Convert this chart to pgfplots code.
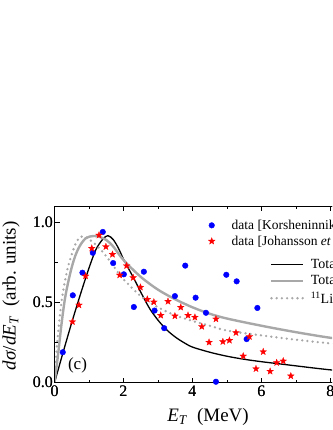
\documentclass[border=0pt]{standalone}
\usepackage{fontspec}
\setmainfont{Liberation Serif}
\usepackage{pgfplots}
\pgfplotsset{compat=1.18}

% filled five-point star
\pgfdeclareplotmark{fivestar}{%
  \pgfpathmoveto{\pgfpointpolar{90}{\pgfplotmarksize}}%
  \pgfpathlineto{\pgfpointpolar{126}{0.42\pgfplotmarksize}}%
  \pgfpathlineto{\pgfpointpolar{162}{\pgfplotmarksize}}%
  \pgfpathlineto{\pgfpointpolar{198}{0.42\pgfplotmarksize}}%
  \pgfpathlineto{\pgfpointpolar{234}{\pgfplotmarksize}}%
  \pgfpathlineto{\pgfpointpolar{270}{0.42\pgfplotmarksize}}%
  \pgfpathlineto{\pgfpointpolar{306}{\pgfplotmarksize}}%
  \pgfpathlineto{\pgfpointpolar{342}{0.42\pgfplotmarksize}}%
  \pgfpathlineto{\pgfpointpolar{18}{\pgfplotmarksize}}%
  \pgfpathlineto{\pgfpointpolar{54}{0.42\pgfplotmarksize}}%
  \pgfpathclose
  \pgfusepathqfillstroke}

\definecolor{lgray}{RGB}{168,168,168}

\pgfplotsset{
  base/.style={
    scale only axis,
    width=310.5pt, height=176.4pt,
    at={(54.5pt,47.3pt)}, anchor=south west,
    xmin=0, xmax=9, ymin=0, ymax=1.1,
    xtick={0,2,4,6,8}, ytick={0,0.5,1},
    minor x tick num=1, minor y tick num=1,
    tick align=inside, xtick pos=both, ytick pos=both,
    major tick length=5pt, minor tick length=3pt,
    every tick/.style={black, line width=0.8pt},
    axis line style={line width=0.9pt},
    /pgf/number format/assume math mode=true,
    ticklabel style={font=\fontsize{16}{16}\selectfont},
    yticklabel style={/tikz/xshift=2pt, /pgf/number format/.cd, fixed, fixed zerofill, precision=1},
    legend cell align=left,
  }
}

\pgfplotstableread{
x y
0.24 0.19
0.53 0.545
0.81 0.686
1.11 0.81
1.40 0.94
1.70 0.746
2.01 0.676
2.30 0.472
2.59 0.692
2.90 0.45
3.18 0.34
3.49 0.54
3.79 0.73
4.09 0.53
4.39 0.436
4.68 0.006
4.98 0.673
5.28 0.632
5.57 0.272
5.88 0.466
}\korsh

\pgfplotstableread{
x y
0.52 0.38
0.71 0.484
0.90 0.665
1.08 0.838
1.29 0.92
1.49 0.848
1.68 0.80
1.89 0.671
2.09 0.729
2.28 0.655
2.49 0.595
2.69 0.52
2.88 0.503
3.08 0.42
3.29 0.507
3.49 0.416
3.66 0.47
3.87 0.42
4.07 0.408
4.27 0.35
4.48 0.252
4.68 0.397
4.88 0.256
5.07 0.264
5.26 0.312
5.47 0.166
5.65 0.287
5.84 0.087
6.05 0.193
6.25 0.071
6.44 0.125
6.63 0.135
6.85 0.042
}\johan

\begin{document}
\begin{tikzpicture}
\useasboundingbox (0,0) rectangle (332pt,430pt);
\clip (0,0) rectangle (332pt,430pt);

% curves
\begin{axis}[base,
  legend image code/.code={\draw[#1] (0pt,0pt) -- (32pt,0pt);},
  legend style={at={(axis description cs:0.694,0.7046)}, anchor=north west,
    draw=none, fill=none, inner sep=0pt, row sep=5.3pt, column sep=6pt,
    nodes={inner sep=0pt}, font=\fontsize{14}{14}\selectfont},
]
\addplot[black, line width=1.3pt, smooth] coordinates {
(0,0) (0.25,0.19) (0.5,0.375) (0.75,0.55) (1.0,0.715) (1.2,0.83) (1.4,0.895)
(1.55,0.917) (1.7,0.893) (1.85,0.84) (2.0,0.77) (2.1,0.73) (2.3,0.65)
(2.5,0.565) (2.75,0.465) (3.0,0.39) (3.25,0.33) (3.5,0.285) (3.75,0.25)
(4.0,0.222) (4.5,0.19) (5.0,0.165) (5.5,0.146) (6.0,0.131) (6.5,0.118)
(7.0,0.105) (7.5,0.092) (8.0,0.08) (8.5,0.071) (9.0,0.062)
};
\addlegendentry{Total (present model)}
\addplot[lgray, line width=2.4pt, smooth] coordinates {
(0,0) (0.1,0.17) (0.2,0.36) (0.3,0.52) (0.4,0.63) (0.5,0.72) (0.6,0.79)
(0.7,0.84) (0.8,0.875) (0.9,0.9) (1.0,0.91) (1.15,0.915) (1.3,0.91)
(1.5,0.89) (1.7,0.85) (2.0,0.765) (2.5,0.66) (3.0,0.58) (3.5,0.52)
(4.0,0.47) (4.5,0.43) (5.0,0.40) (6.0,0.355) (7.0,0.315) (8.0,0.28) (9.0,0.255)
};
\addlegendentry{Total (other model)}
\addplot[lgray, line width=2.6pt, line cap=round, dash pattern=on 0pt off 5.2pt, smooth] coordinates {
(0,0) (0.05,0.17) (0.1,0.3) (0.2,0.5) (0.3,0.63) (0.4,0.73) (0.5,0.8)
(0.6,0.86) (0.7,0.9) (0.8,0.912) (0.9,0.908) (1.0,0.895) (1.2,0.86)
(1.4,0.815) (1.6,0.76) (1.8,0.7) (2.0,0.645) (2.5,0.54) (3.0,0.47)
(3.5,0.42) (4.0,0.385) (4.5,0.355) (5.0,0.325) (6.0,0.295) (7.0,0.268)
(8.0,0.245) (9.0,0.225)
};
\addlegendentry{\textsuperscript{11}Li (three-body)}
\end{axis}

% data
\begin{axis}[base, clip=false,
  legend image code/.code={\draw[#1] plot coordinates {(0pt,0pt)};},
  legend style={at={(axis description cs:0.4947,0.924)}, anchor=north west,
    draw=none, fill=none, inner sep=0pt, row sep=5pt, column sep=16.5pt,
    nodes={inner sep=0pt}, font=\fontsize{13.5}{13.5}\selectfont},
]
\addplot[only marks, mark=*, mark size=2.8pt, blue, mark options={draw=blue, fill=blue}]
  table[x=x, y=y] {\korsh};
\addlegendentry{data [Korsheninnikov \textit{et al.}]}
\addplot[only marks, mark=fivestar, mark size=3.6pt, red, mark options={draw=red, fill=red, line width=0.2pt}]
  table[x=x, y=y] {\johan};
\addlegendentry{data [Johansson \textit{et al.}]}
\end{axis}

\node[font=\fontsize{17}{17}\selectfont] at (77.5pt,65pt) {(c)};
\node[font=\fontsize{19}{19}\selectfont] at (208pt,13pt) {\textit{E}\textsubscript{\textit{T}}\ \ (MeV)};
\node[rotate=90, font=\fontsize{19}{19}\selectfont] at (11pt,134pt) {\textit{dσ}/\textit{dE}\textsubscript{\textit{T}}\ \ (arb. units)};
\end{tikzpicture}
\end{document}
